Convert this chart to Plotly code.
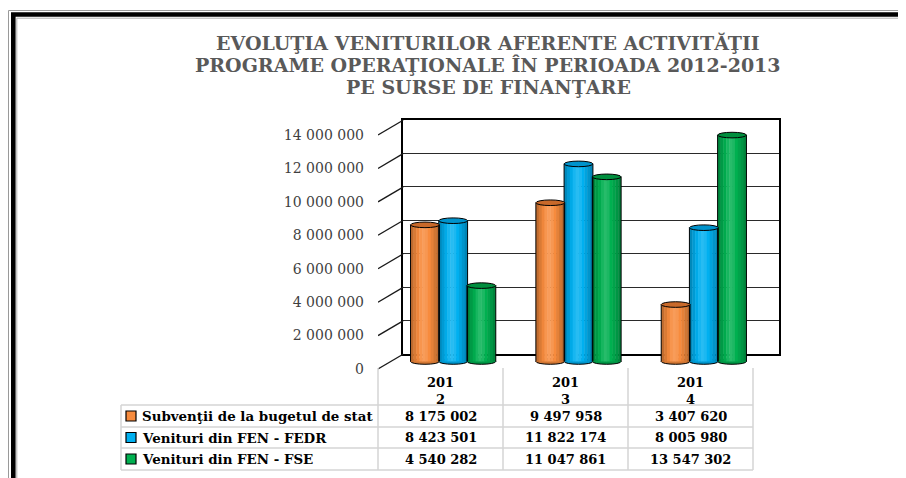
import plotly.graph_objects as go

# ---------------- data ----------------
years = ["2012", "2013", "2014"]
series_names = ["Subvenţii de la bugetul de stat", "Venituri din FEN - FEDR", "Venituri din FEN - FSE"]
subventii = [8175002, 9497958, 3407620]
fedr = [8423501, 11822174, 8005980]
fse = [4540282, 11047861, 13547302]
tick_values = [0, 2000000, 4000000, 6000000, 8000000, 10000000, 12000000, 14000000]
title_lines = ["EVOLUŢIA VENITURILOR AFERENTE ACTIVITĂŢII",
               "PROGRAME OPERAŢIONALE ÎN PERIOADA 2012-2013",
               "PE SURSE DE FINANŢARE"]

series_values = [subventii, fedr, fse]

# ---------------- style ----------------
OFF = 8                      # page body margin
W, H = 906 - OFF, 478 - OFF
FONT = "DejaVu Serif"
base_colors = ["#F78B3D", "#00B0F0", "#00B050"]
top_colors = ["#C8692A", "#0093CC", "#008E3E"]
profile = [0.78, 0.88, 0.97, 1.04, 1.07, 1.05, 1.0, 0.93, 0.85, 0.76]


def PX(x):
    return (x - OFF) / W


def PY(y):
    return 1 - (y - OFF) / H


def hex2rgb(h):
    h = h.lstrip("#")
    return [int(h[i:i + 2], 16) for i in (0, 2, 4)]


def shade(h, f):
    r = hex2rgb(h)
    if f <= 1:
        r = [int(c * f) for c in r]
    else:
        r = [int(c + (255 - c) * (f - 1) * 2.2) for c in r]
    return "rgb(%d,%d,%d)" % tuple(min(255, max(0, c)) for c in r)


VMAX = tick_values[-1]
K = 234.0 / VMAX          # pixels per unit
DEPTH = 15.0 / K          # depth of the floor expressed in value units


def ydomain(zero_px, lo, hi):
    return [PY(zero_px - lo * K), PY(zero_px - hi * K)]


fig = go.Figure()

# dummy trace to create the back-wall subplot
fig.add_trace(go.Scatter(x=[0.5], y=[0], mode="markers", marker=dict(opacity=0),
                         hoverinfo="skip", showlegend=False, xaxis="x", yaxis="y"))

# side-wall diagonal lines (front plane -> back wall)
dx, dy = [], []
for v in tick_values:
    dx += [0, 1, None]
    dy += [v, v + DEPTH, None]
fig.add_trace(go.Scatter(x=dx, y=dy, mode="lines", line=dict(color="#1a1a1a", width=1.3),
                         hoverinfo="skip", showlegend=False, xaxis="x3", yaxis="y3"))

# cylinders
bw = 0.23
offsets = [-0.34, -0.115, 0.11]
N = len(profile)
xs = list(range(len(years)))
r_units = 2.8 / K
shapes = []
for s, vals in enumerate(series_values):
    for j in range(N):
        w = bw / N
        fig.add_trace(go.Bar(
            x=xs, y=vals, xaxis="x2", yaxis="y2",
            width=w * (1.0 if j == N - 1 else 1.15), offset=offsets[s] + j * w,
            marker=dict(color=shade(base_colors[s], profile[j]), line=dict(width=0)),
            hoverinfo="skip", showlegend=False))
    lx, ly = [], []
    for i, v in enumerate(vals):
        a = i + offsets[s]
        b = a + bw
        lx += [a, a, None, b, b, None]
        ly += [0, v, None, 0, v, None]
        shapes.append(dict(type="circle", xref="x2", yref="y2", x0=a, x1=b,
                           y0=v - r_units, y1=v + r_units, fillcolor=top_colors[s],
                           line=dict(color="black", width=1), layer="above"))
        shapes.append(dict(type="circle", xref="x2", yref="y2", x0=a, x1=b,
                           y0=-r_units, y1=r_units, fillcolor=shade(base_colors[s], 0.85),
                           line=dict(color="black", width=1), layer="below"))
    fig.add_trace(go.Scatter(x=lx, y=ly, mode="lines", line=dict(color="black", width=1),
                             hoverinfo="skip", showlegend=False, xaxis="x2", yaxis="y2"))

# ---------------- table ----------------
grid_c = "#D4D4D4"
col_x = [378, 503, 628, 753]
row_y = [405, 427, 448, 470]
for x in col_x:
    shapes.append(dict(type="line", xref="paper", yref="paper", x0=PX(x), x1=PX(x),
                       y0=PY(368), y1=PY(470), line=dict(color=grid_c, width=1.5)))
shapes.append(dict(type="line", xref="paper", yref="paper", x0=PX(121), x1=PX(121),
                   y0=PY(405), y1=PY(470), line=dict(color=grid_c, width=1.5)))
for y in row_y:
    shapes.append(dict(type="line", xref="paper", yref="paper", x0=PX(121), x1=PX(753),
                       y0=PY(y), y1=PY(y), line=dict(color=grid_c, width=1.5)))

annotations = []
for i, yr in enumerate(years):
    cx = (col_x[i] + col_x[i + 1]) / 2
    annotations.append(dict(x=PX(cx), y=PY(390.5), xref="paper", yref="paper",
                            text=yr[:3] + "<br>" + yr[3:], showarrow=False,
                            xanchor="center", yanchor="middle",
                            font=dict(family=FONT, size=13, color="black", weight="bold")))
for s, vals in enumerate(series_values):
    cy = (row_y[s] + row_y[s + 1]) / 2
    for i, v in enumerate(vals):
        cx = (col_x[i] + col_x[i + 1]) / 2
        annotations.append(dict(x=PX(cx), y=PY(cy), xref="paper", yref="paper",
                                text=f"{v:,}".replace(",", " "), showarrow=False,
                                xanchor="center", yanchor="middle",
                                font=dict(family=FONT, size=13, color="black", weight="bold")))
    shapes.append(dict(type="rect", xref="paper", yref="paper", x0=PX(126), x1=PX(136),
                       y0=PY(cy + 5), y1=PY(cy - 5), fillcolor=base_colors[s],
                       line=dict(color="black", width=1.2)))
    annotations.append(dict(x=PX(140), y=PY(cy), xref="paper", yref="paper",
                            text=series_names[s], showarrow=False,
                            xanchor="left", yanchor="middle",
                            font=dict(family=FONT, size=13.4, color="black", weight="bold")))

# title (one annotation per line for tight line spacing)
for line, cy in zip(title_lines, [43, 65, 87]):
    annotations.append(dict(x=PX(488), y=PY(cy), xref="paper", yref="paper",
                            text=line, showarrow=False,
                            xanchor="center", yanchor="middle",
                            font=dict(family=FONT, size=19, color="#595959", weight="bold")))

# frame border
shapes.append(dict(type="rect", xref="paper", yref="paper", x0=PX(8.5), y0=PY(10.5),
                   x1=PX(960), y1=PY(540), line=dict(color="#9a9a9a", width=1)))
shapes.append(dict(type="rect", xref="paper", yref="paper", x0=PX(13.3), y0=PY(14.5),
                   x1=PX(960), y1=PY(540), line=dict(color="black", width=4.6)))
shapes.append(dict(type="rect", xref="paper", yref="paper", x0=PX(16.8), y0=PY(18.2),
                   x1=PX(960), y1=PY(540), line=dict(color="#b0b0b0", width=1)))

fig.update_layout(
    width=W, height=H,
    margin=dict(l=0, r=0, t=0, b=0),
    paper_bgcolor="white", plot_bgcolor="rgba(0,0,0,0)",
    barmode="overlay",
    separators=". ",
    showlegend=False,
    shapes=shapes,
    annotations=annotations,
    # back wall
    xaxis=dict(domain=[PX(403), PX(779)], range=[0, 1], showticklabels=False, ticks="",
               showgrid=False, zeroline=False, showline=True, mirror=True,
               linecolor="black", linewidth=1.6, fixedrange=True),
    yaxis=dict(domain=ydomain(354, 0, VMAX), range=[0, VMAX], tickvals=tick_values,
               showticklabels=False, ticks="", showgrid=True, gridcolor="#2a2a2a",
               gridwidth=1.4, zeroline=False, showline=True, mirror=True,
               linecolor="black", linewidth=1.6, fixedrange=True),
    # bars (mid-depth plane)
    xaxis2=dict(domain=[PX(390.5), PX(766.5)], range=[-0.5, 2.5], visible=False,
                anchor="y2", fixedrange=True),
    yaxis2=dict(domain=ydomain(361.5, -1e6, 14.3e6), range=[-1e6, 14.3e6], visible=False,
                anchor="x2", fixedrange=True),
    # front plane: value labels + side wall
    xaxis3=dict(domain=[PX(378), PX(403.5)], range=[0, 1], visible=False,
                anchor="y3", fixedrange=True),
    yaxis3=dict(domain=ydomain(369, -0.5e6, VMAX + DEPTH + 0.3e6),
                range=[-0.5e6, VMAX + DEPTH + 0.3e6], anchor="x3",
                tickvals=tick_values, tickformat=",d", ticks="", showgrid=False,
                zeroline=False, showline=False, ticklabelstandoff=13,
                tickfont=dict(family=FONT, size=14, color="#3f3f3f"), fixedrange=True),
)

fig.write_html("out.html")
